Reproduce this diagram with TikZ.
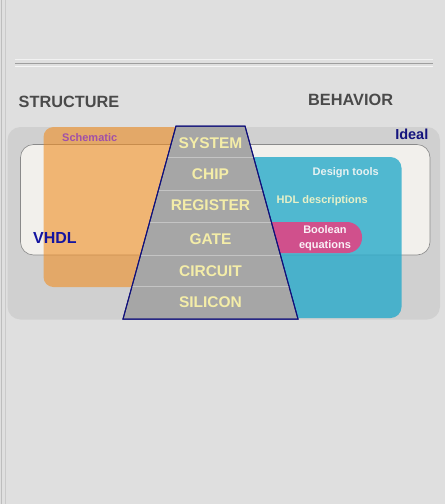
\documentclass[tikz,border=0pt]{standalone}
\usepackage{fontspec}
\setmainfont{Liberation Sans}
\definecolor{bg}{HTML}{DFDFDF}
\definecolor{edgeA}{HTML}{BDBDBD}
\definecolor{edgeB}{HTML}{CACACA}
\definecolor{rulegray}{HTML}{9E9E9E}
\definecolor{idealgray}{HTML}{D0D0D0}
\definecolor{vhdlwhite}{HTML}{F2F0EC}
\definecolor{vhdlborder}{HTML}{8A8A8A}
\definecolor{orangefill}{HTML}{F08E23}
\definecolor{cyanfill}{HTML}{28AACA}
\definecolor{pinkfill}{HTML}{D0508C}
\definecolor{trapgray}{HTML}{A6A6A6}
\definecolor{trapsep}{HTML}{C4C4C4}
\definecolor{navyline}{HTML}{10107A}
\definecolor{lvltext}{HTML}{F4EDA8}
\definecolor{headgray}{HTML}{4A4A4A}
\definecolor{idealnavy}{HTML}{14147E}
\definecolor{vhdlnavy}{HTML}{1414A0}
\definecolor{schempurple}{HTML}{A050A8}
\definecolor{designtxt}{HTML}{E8F2F2}
\definecolor{hdltxt}{HTML}{E6F0C8}
\definecolor{booltxt}{HTML}{FAF0F6}
\begin{document}
\begin{tikzpicture}[x=1pt,y=-1pt,
  lvl/.style={font=\bfseries\fontsize{15.5}{18}\selectfont, text=lvltext, inner sep=0pt},
  smalltxt/.style={font=\bfseries\fontsize{11}{14}\selectfont, align=center, inner sep=0pt},
  head/.style={font=\bfseries\fontsize{16.3}{20}\selectfont, text=headgray, inner sep=0pt}]
\useasboundingbox (0,0) rectangle (445,504);
\fill[bg] (0,0) rectangle (445,504);
\draw[edgeA, line width=1pt] (1.5,0) -- (1.5,504);
\draw[edgeB, line width=1pt] (5.5,0) -- (5.5,504);
% top rule
\draw[white!60!bg, line width=0.8pt] (15,59.5) -- (433,59.5);
\draw[rulegray, line width=1.2pt] (15,63.5) -- (433,63.5);
\draw[white!70!bg, line width=0.8pt] (15,66.5) -- (433,66.5);
% headings
\node[head, anchor=west] (structure) at (18.5,102) {STRUCTURE};
\node[head, anchor=west] (behavior) at (308,100) {BEHAVIOR};
% regions
\fill[idealgray, rounded corners=13] (7.5,127) rectangle (440,319.5);
\filldraw[fill=vhdlwhite, draw=vhdlborder, line width=0.6pt, rounded corners=13] (20.5,144.5) rectangle (430,255);
\fill[orangefill, opacity=0.6, rounded corners=10] (43.5,127) rectangle (200,287);
\fill[cyanfill, opacity=0.8, rounded corners=11] (245,157) rectangle (401.5,318);
\fill[pinkfill, rounded corners=15] (255,222) rectangle (362,253);
% trapezoid
\filldraw[fill=trapgray, draw=navyline, line width=1pt] (176,126) -- (245,126) -- (298,319) -- (123,319) -- cycle;
\begin{scope}
\clip (176,126) -- (245,126) -- (298,319) -- (123,319) -- cycle;
\foreach \yy in {157.7,190.5,222.5,255,286.7}
  \draw[trapsep, line width=0.8pt] (100,\yy) -- (320,\yy);
\end{scope}
\draw[navyline, line width=1pt] (176,126) -- (245,126) -- (298,319) -- (123,319) -- cycle;
% level labels
\node[lvl] (system) at (210.5,143) {SYSTEM};
\node[lvl] (chip) at (210.5,174) {CHIP};
\node[lvl] (register) at (210.5,205.5) {REGISTER};
\node[lvl] (gate) at (210.5,239) {GATE};
\node[lvl] (circuit) at (210.5,271) {CIRCUIT};
\node[lvl] (silicon) at (210.5,302) {SILICON};
% region labels
\node[font=\bfseries\fontsize{14.5}{17}\selectfont, text=idealnavy, anchor=east, inner sep=0pt] (ideal) at (428.5,134.5) {Ideal};
\node[font=\bfseries\fontsize{16}{19}\selectfont, text=vhdlnavy, anchor=west, inner sep=0pt] (vhdl) at (33,237.5) {VHDL};
\node[smalltxt, text=schempurple, anchor=west] (schematic) at (62,137.5) {Schematic};
\node[smalltxt, text=designtxt, anchor=west] (design) at (312.5,172.5) {Design tools};
\node[smalltxt, text=hdltxt, anchor=west] (hdl) at (276.5,201) {HDL descriptions};
\node[smalltxt, text=booltxt, font=\bfseries\fontsize{11}{15}\selectfont] (bool) at (325,238.5) {Boolean\\equations};
\end{tikzpicture}
\end{document}
